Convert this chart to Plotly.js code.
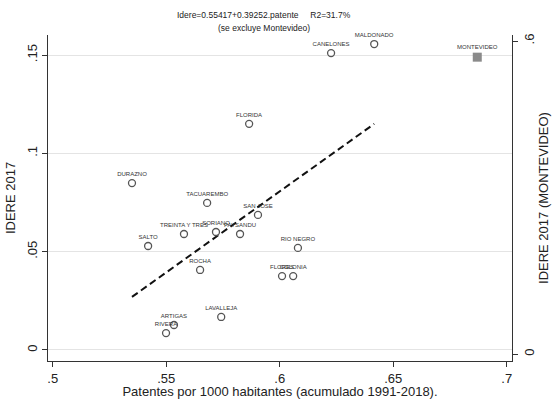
<!DOCTYPE html>
<html>
<head>
<meta charset="utf-8">
<script src="https://cdn.plot.ly/plotly-3.0.1.min.js"></script>
<style>html,body{margin:0;padding:0;background:#fff;}#chart{width:555px;height:399px;}</style>
</head>
<body>
<div id="chart"></div>
<script>
// Departments (Montevideo excluded from main axis)
const departments = ["DURAZNO","FLORIDA","TACUAREMBO","SAN JOSE","TREINTA Y TRES","SORIANO","PAYSANDU","SALTO","RIO NEGRO","ROCHA","FLORES","COLONIA","LAVALLEJA","ARTIGAS","RIVERA","CANELONES","MALDONADO"];
const patentes   = [0.5349,0.5865,0.5680,0.5904,0.5578,0.5719,0.5825,0.5420,0.6080,0.5649,0.6010,0.6059,0.5742,0.5534,0.5499,0.6226,0.6416];
const idere      = [0.0849,0.1150,0.0748,0.0687,0.0590,0.0600,0.0590,0.0529,0.0519,0.0407,0.0376,0.0376,0.0168,0.0127,0.0086,0.1510,0.1556];

const mvdName = ["MONTEVIDEO"];
const mvdPatentes = [0.687];
const mvdIdere = [0.569];

// Fitted line endpoints
const fitX = [0.5349, 0.6416];
const fitY = [0.0270, 0.1150];

const xTickVals = [0.5,0.55,0.6,0.65,0.7];
const xTickText = [".5",".55",".6",".65",".7"];
const yTickVals = [0,0.05,0.1,0.15];
const yTickText = ["0",".05",".1",".15"];
const y2TickVals = [0,0.6];
const y2TickText = ["0",".6"];

const FONT = "Liberation Sans, Arial, sans-serif";

const traces = [
  {
    x: fitX, y: fitY, mode: "lines", type: "scatter",
    line: {color: "#111", width: 2, dash: "7px,4px"},
    hoverinfo: "skip", showlegend: false
  },
  {
    x: patentes, y: idere, text: departments, mode: "markers+text", type: "scatter",
    textposition: "top center",
    textfont: {family: FONT, size: 6, color: "#333"},
    marker: {symbol: "circle-open", size: 7, color: "#555", line: {width: 1.3, color: "#555"}},
    showlegend: false, cliponaxis: false
  },
  {
    x: mvdPatentes, y: mvdIdere, text: mvdName, mode: "markers+text", type: "scatter",
    yaxis: "y2",
    textposition: "top center",
    textfont: {family: FONT, size: 6, color: "#333"},
    marker: {symbol: "square", size: 9, color: "#8a8a8a"},
    showlegend: false, cliponaxis: false
  }
];

const layout = {
  width: 555, height: 399,
  margin: {l: 48, r: 43, t: 35, b: 38, pad: 0},
  paper_bgcolor: "#fff", plot_bgcolor: "#fff",
  font: {family: FONT, color: "#222"},
  showlegend: false,
  xaxis: {
    range: [0.4979, 0.7023],
    tickvals: xTickVals, ticktext: xTickText,
    ticks: "outside", ticklen: 5, tickcolor: "#333", tickwidth: 1,
    showline: true, linecolor: "#333", linewidth: 1,
    showgrid: false, zeroline: false,
    tickfont: {family: FONT, size: 13, color: "#222"},
    title: {text: "Patentes por 1000 habitantes (acumulado 1991-2018).", font: {family: FONT, size: 13, color: "#222"}, standoff: 0}
  },
  yaxis: {
    range: [-0.0056, 0.1602],
    tickvals: yTickVals, ticktext: yTickText, tickangle: -90,
    ticks: "outside", ticklen: 5, tickcolor: "#333", tickwidth: 1,
    showline: true, linecolor: "#333", linewidth: 1,
    showgrid: true, gridcolor: "#e4e4e4", gridwidth: 1, zeroline: false,
    tickfont: {family: FONT, size: 13, color: "#222"},
    title: {text: "IDERE 2017", font: {family: FONT, size: 13, color: "#222"}, standoff: 6}
  },
  yaxis2: {
    overlaying: "y", side: "right",
    range: [-0.0134, 0.6115],
    tickvals: y2TickVals, ticktext: y2TickText, tickangle: -90,
    ticks: "outside", ticklen: 5, tickcolor: "#333", tickwidth: 1,
    showline: true, linecolor: "#333", linewidth: 1,
    showgrid: false, zeroline: false,
    tickfont: {family: FONT, size: 13, color: "#222"},
    title: {text: "IDERE 2017 (MONTEVIDEO)", font: {family: FONT, size: 13, color: "#222"}, standoff: 3}
  },
  annotations: [
    {text: "Idere=0.55417+0.39252.patente\u00A0\u00A0\u00A0\u00A0\u00A0R2=31.7%", xref: "paper", yref: "paper",
     x: 0.465, y: 1, yshift: 20, xanchor: "center", yanchor: "middle", showarrow: false,
     font: {family: FONT, size: 8.5, color: "#222"}},
    {text: "(se excluye Montevideo)", xref: "paper", yref: "paper",
     x: 0.465, y: 1, yshift: 7, xanchor: "center", yanchor: "middle", showarrow: false,
     font: {family: FONT, size: 8.5, color: "#222"}}
  ]
};

Plotly.newPlot("chart", traces, layout, {staticPlot: true, displayModeBar: false});
</script>
</body>
</html>
